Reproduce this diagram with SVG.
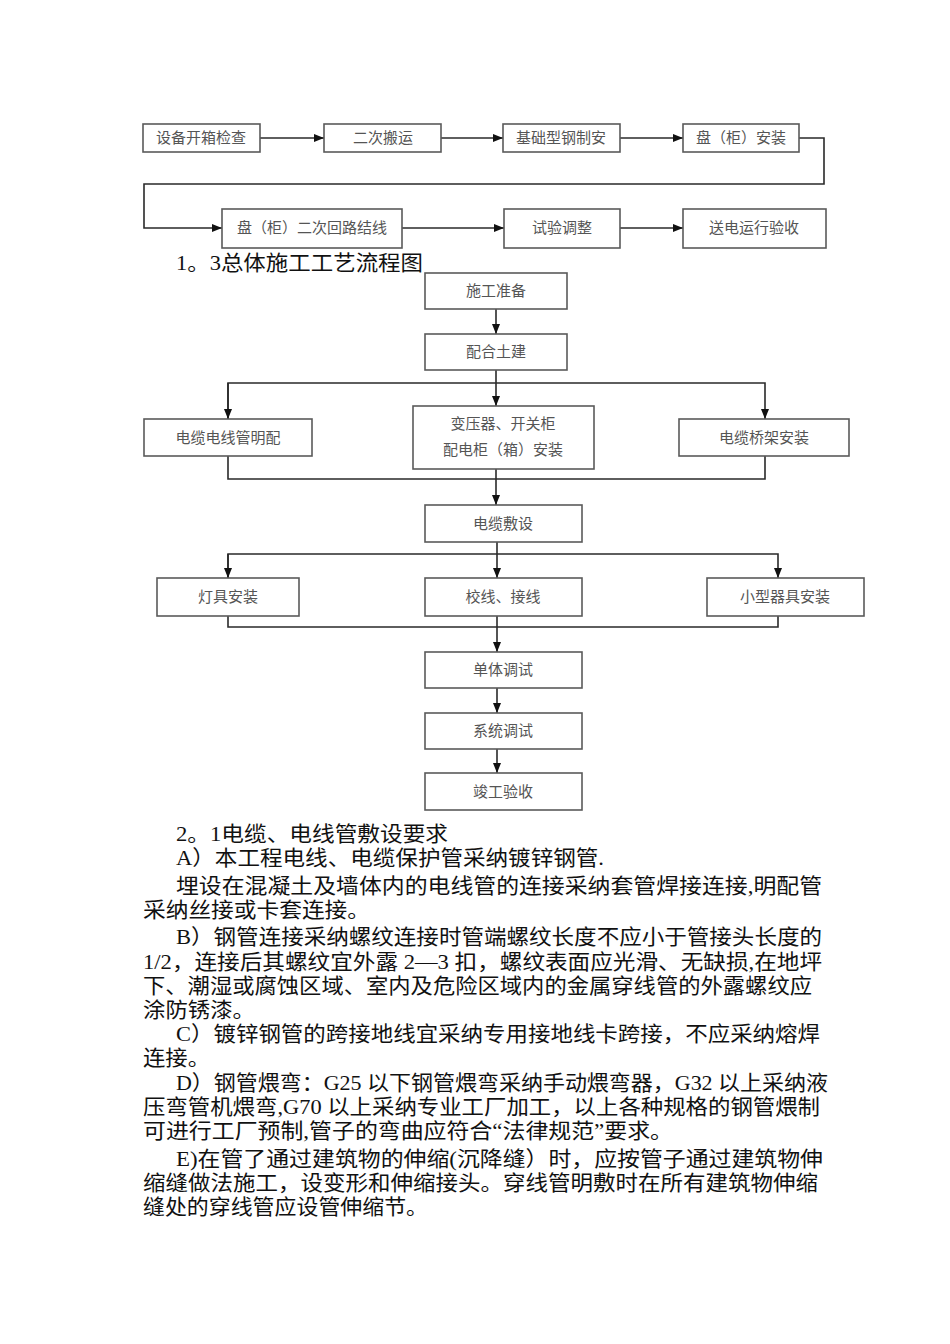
<svg xmlns="http://www.w3.org/2000/svg" width="950" height="1344" viewBox="0 0 950 1344">
<style>
.box{fill:#fff;stroke:#5a5a5a;stroke-width:1.6}
.lbl{font-family:"Liberation Serif","Noto Sans CJK SC",serif;font-size:15px;fill:#555;text-anchor:middle;dominant-baseline:central}
.con{fill:none;stroke:#2a2a2a;stroke-width:1.6}
.body{font-family:"Liberation Serif","Noto Sans CJK SC",serif;font-size:21px;fill:#111}
</style>
<defs>
<marker id="ah" markerUnits="userSpaceOnUse" markerWidth="10" markerHeight="10" viewBox="0 0 10 10" refX="10" refY="5" orient="auto">
<path d="M0,1 L10,5 L0,9 Z" fill="#111"/>
</marker>
</defs>
<rect width="950" height="1344" fill="#fff"/>

<g id="connectors">
<line class="con" x1="260" y1="138" x2="324" y2="138" marker-end="url(#ah)"/>
<line class="con" x1="441" y1="138" x2="503" y2="138" marker-end="url(#ah)"/>
<line class="con" x1="620" y1="138" x2="683" y2="138" marker-end="url(#ah)"/>
<polyline class="con" points="799,138 824,138 824,184 144,184 144,228 222,228" marker-end="url(#ah)"/>
<line class="con" x1="402" y1="228" x2="504" y2="228" marker-end="url(#ah)"/>
<line class="con" x1="620" y1="228" x2="683" y2="228" marker-end="url(#ah)"/>

<line class="con" x1="496" y1="309" x2="496" y2="334" marker-end="url(#ah)"/>
<line class="con" x1="496" y1="370" x2="496" y2="406" marker-end="url(#ah)"/>
<polyline class="con" points="228,419 228,383 765,383 765,419" marker-end="url(#ah)"/>
<line class="con" x1="228" y1="383" x2="228" y2="419" marker-end="url(#ah)"/>
<polyline class="con" points="228,456 228,479 765,479 765,456"/>
<line class="con" x1="496" y1="469" x2="496" y2="505" marker-end="url(#ah)"/>
<line class="con" x1="497" y1="542" x2="497" y2="578" marker-end="url(#ah)"/>
<polyline class="con" points="228,578 228,554 778,554 778,578" marker-end="url(#ah)"/>
<line class="con" x1="228" y1="554" x2="228" y2="578" marker-end="url(#ah)"/>
<polyline class="con" points="228,616 228,627 778,627 778,616"/>
<line class="con" x1="497" y1="616" x2="497" y2="652" marker-end="url(#ah)"/>
<line class="con" x1="497" y1="688" x2="497" y2="713" marker-end="url(#ah)"/>
<line class="con" x1="497" y1="749" x2="497" y2="773" marker-end="url(#ah)"/>
</g>

<g id="n1"><rect class="box" x="143" y="124" width="117" height="28"/><text class="lbl" x="201" y="138">设备开箱检查</text></g>
<g id="n2"><rect class="box" x="324" y="124" width="117" height="28"/><text class="lbl" x="383" y="138">二次搬运</text></g>
<g id="n3"><rect class="box" x="503" y="124" width="117" height="28"/><text class="lbl" x="561" y="138">基础型钢制安</text></g>
<g id="n4"><rect class="box" x="683" y="124" width="116" height="28"/><text class="lbl" x="741" y="138">盘（柜）安装</text></g>
<g id="n5"><rect class="box" x="222" y="209" width="180" height="39"/><text class="lbl" x="312" y="228">盘（柜）二次回路结线</text></g>
<g id="n6"><rect class="box" x="504" y="209" width="116" height="39"/><text class="lbl" x="562" y="228">试验调整</text></g>
<g id="n7"><rect class="box" x="683" y="209" width="143" height="39"/><text class="lbl" x="754" y="228">送电运行验收</text></g>

<text class="body" x="176" y="270" textLength="247" lengthAdjust="spacingAndGlyphs">1。3总体施工工艺流程图</text>

<g id="f1"><rect class="box" x="425" y="273" width="142" height="36"/><text class="lbl" x="496" y="291">施工准备</text></g>
<g id="f2"><rect class="box" x="425" y="334" width="142" height="36"/><text class="lbl" x="496" y="352">配合土建</text></g>
<g id="f3"><rect class="box" x="144" y="419" width="168" height="37"/><text class="lbl" x="228" y="438">电缆电线管明配</text></g>
<g id="f4"><rect class="box" x="413" y="406" width="181" height="63"/><text class="lbl" x="503" y="424">变压器、开关柜</text><text class="lbl" x="503" y="450">配电柜（箱）安装</text></g>
<g id="f5"><rect class="box" x="679" y="419" width="170" height="37"/><text class="lbl" x="764" y="438">电缆桥架安装</text></g>
<g id="f6"><rect class="box" x="425" y="505" width="157" height="37"/><text class="lbl" x="503" y="524">电缆敷设</text></g>
<g id="f7"><rect class="box" x="157" y="578" width="142" height="38"/><text class="lbl" x="228" y="597">灯具安装</text></g>
<g id="f8"><rect class="box" x="425" y="578" width="157" height="38"/><text class="lbl" x="503" y="597">校线、接线</text></g>
<g id="f9"><rect class="box" x="707" y="578" width="157" height="38"/><text class="lbl" x="785" y="597">小型器具安装</text></g>
<g id="f10"><rect class="box" x="425" y="652" width="157" height="36"/><text class="lbl" x="503" y="670">单体调试</text></g>
<g id="f11"><rect class="box" x="425" y="713" width="157" height="36"/><text class="lbl" x="503" y="731">系统调试</text></g>
<g id="f12"><rect class="box" x="425" y="773" width="157" height="37"/><text class="lbl" x="503" y="792">竣工验收</text></g>

<g id="body-text">
<text class="body" x="176" y="841" textLength="272" lengthAdjust="spacingAndGlyphs">2。1电缆、电线管敷设要求</text>
<text class="body" x="176" y="865" textLength="428" lengthAdjust="spacingAndGlyphs">A）本工程电线、电缆保护管采纳镀锌钢管.</text>
<text class="body" x="176" y="893" textLength="646" lengthAdjust="spacingAndGlyphs">埋设在混凝土及墙体内的电线管的连接采纳套管焊接连接,明配管</text>
<text class="body" x="143" y="917" textLength="227" lengthAdjust="spacingAndGlyphs">采纳丝接或卡套连接。</text>
<text class="body" x="176" y="944" textLength="646" lengthAdjust="spacingAndGlyphs">B）钢管连接采纳螺纹连接时管端螺纹长度不应小于管接头长度的</text>
<text class="body" x="143" y="969" textLength="679" lengthAdjust="spacingAndGlyphs">1/2，连接后其螺纹宜外露 2—3 扣，螺纹表面应光滑、无缺损,在地坪</text>
<text class="body" x="143" y="993" textLength="669" lengthAdjust="spacingAndGlyphs">下、潮湿或腐蚀区域、室内及危险区域内的金属穿线管的外露螺纹应</text>
<text class="body" x="143" y="1017" textLength="112" lengthAdjust="spacingAndGlyphs">涂防锈漆。</text>
<text class="body" x="176" y="1041" textLength="644" lengthAdjust="spacingAndGlyphs">C）镀锌钢管的跨接地线宜采纳专用接地线卡跨接，不应采纳熔焊</text>
<text class="body" x="143" y="1065" textLength="67" lengthAdjust="spacingAndGlyphs">连接。</text>
<text class="body" x="176" y="1090" textLength="652" lengthAdjust="spacingAndGlyphs">D）钢管煨弯：G25 以下钢管煨弯采纳手动煨弯器，G32 以上采纳液</text>
<text class="body" x="143" y="1114" textLength="677" lengthAdjust="spacingAndGlyphs">压弯管机煨弯,G70 以上采纳专业工厂加工，以上各种规格的钢管煨制</text>
<text class="body" x="143" y="1138" textLength="530" lengthAdjust="spacingAndGlyphs">可进行工厂预制,管子的弯曲应符合“法律规范”要求。</text>
<text class="body" x="176" y="1166" textLength="647" lengthAdjust="spacingAndGlyphs">E)在管了通过建筑物的伸缩(沉降缝）时，应按管子通过建筑物伸</text>
<text class="body" x="143" y="1190" textLength="675" lengthAdjust="spacingAndGlyphs">缩缝做法施工，设变形和伸缩接头。穿线管明敷时在所有建筑物伸缩</text>
<text class="body" x="143" y="1214" textLength="285" lengthAdjust="spacingAndGlyphs">缝处的穿线管应设管伸缩节。</text>
</g>
</svg>
